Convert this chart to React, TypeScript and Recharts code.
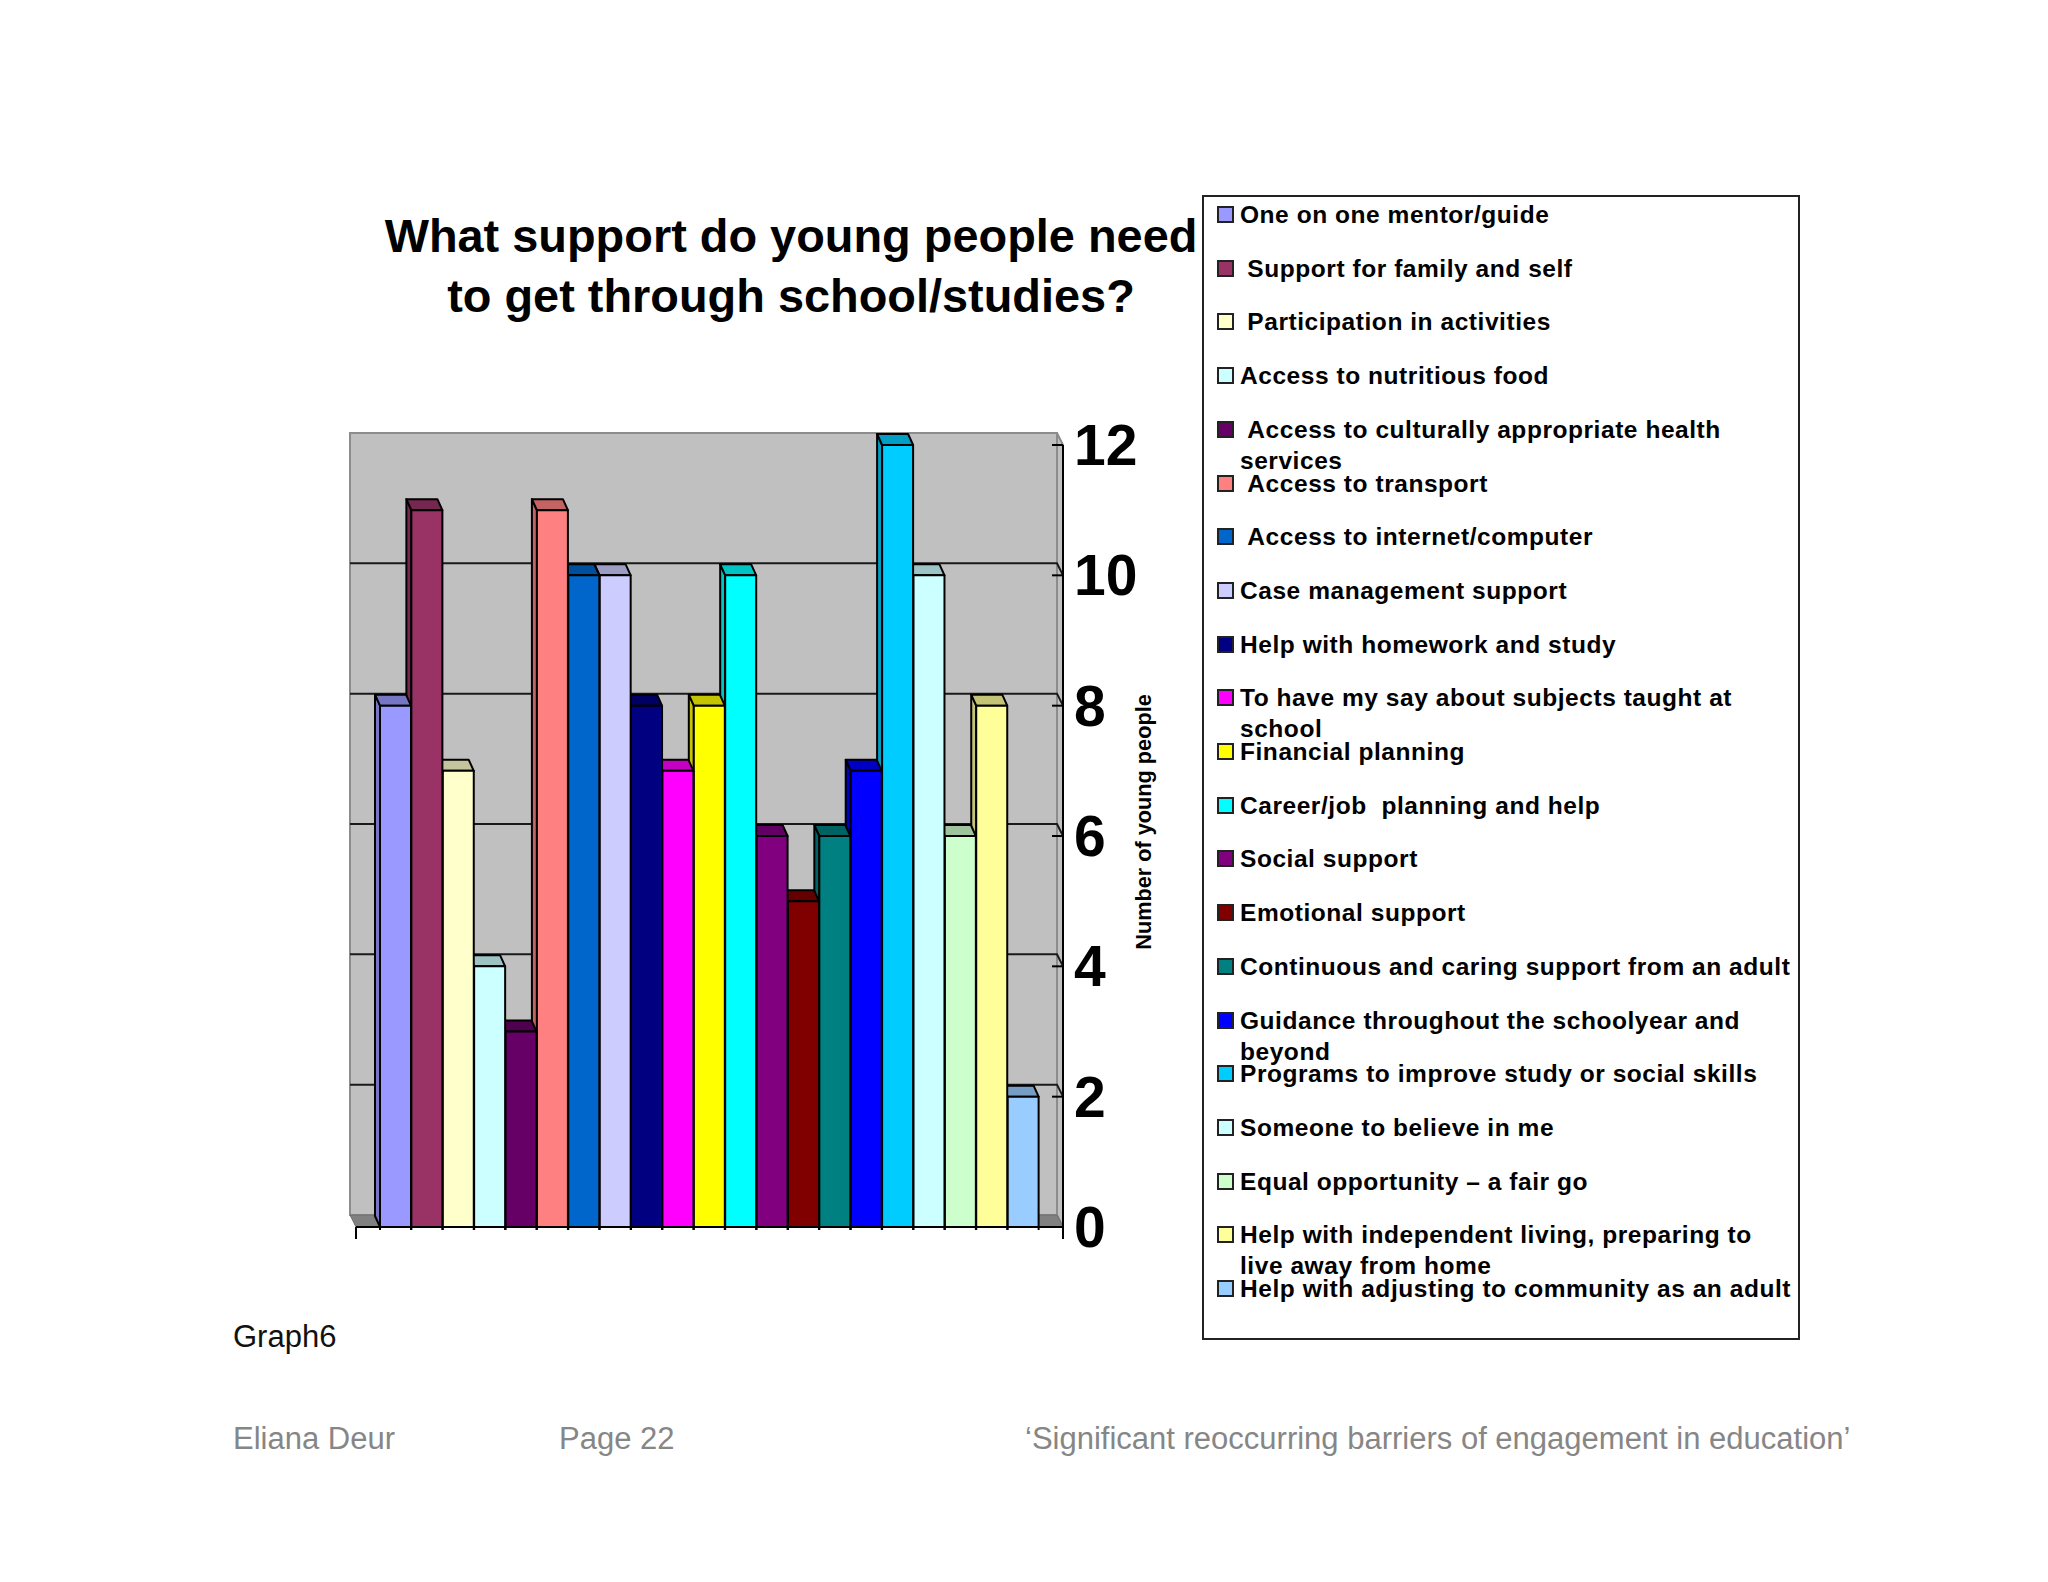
import React from 'react'
import { BarChart, Bar, XAxis, YAxis, CartesianGrid, ReferenceArea } from 'recharts'

const categories = [
  'One on one mentor/guide',
  ' Support for family and self',
  ' Participation in activities',
  'Access to nutritious food',
  ' Access to culturally appropriate health services',
  ' Access to transport',
  ' Access to internet/computer',
  'Case management support',
  'Help with homework and study',
  'To have my say about subjects taught at school',
  'Financial planning',
  'Career/job  planning and help',
  'Social support',
  'Emotional support',
  'Continuous and caring support from an adult',
  'Guidance throughout the schoolyear and beyond',
  'Programs to improve study or social skills',
  'Someone to believe in me',
  'Equal opportunity \u2013 a fair go',
  'Help with independent living, preparing to live away from home',
  'Help with adjusting to community as an adult',
]
const values = [8, 11, 7, 4, 3, 11, 10, 10, 8, 7, 8, 10, 6, 5, 6, 7, 12, 10, 6, 8, 2]
const colors = [
  '#9999FF', '#993366', '#FFFFCC', '#CCFFFF', '#660066', '#FF8080', '#0066CC',
  '#CCCCFF', '#000080', '#FF00FF', '#FFFF00', '#00FFFF', '#800080', '#800000',
  '#008080', '#0000FF', '#00CCFF', '#CCFFFF', '#CCFFCC', '#FFFF99', '#99CCFF',
]
const yTicks = [0, 2, 4, 6, 8, 10, 12]

// bars are painted right to left, the left neighbour sits on top of the side face
const data = categories.map((name, i) => ({ name, value: values[i], color: colors[i] })).reverse()

const FONT = '"Liberation Sans", Arial, sans-serif'
const DEPTH_X = 6
const DEPTH_Y = 12
const PAD_LEFT = 24
const PAD_RIGHT = 24
const LINE = 2

const shade = (hex: string, k = 0.77) => {
  const n = parseInt(hex.slice(1), 16)
  const c = (v: number) => Math.round(v * k)
  return `rgb(${c((n >> 16) & 255)},${c((n >> 8) & 255)},${c(n & 255)})`
}

const Bar3D = (props: any) => {
  const { x, y, width, height, payload } = props
  const dark = shade(payload.color)
  const dx = 5
  const dy = 11
  const bottom = y + height
  return (
    <g stroke="#000" strokeWidth={LINE} strokeLinejoin="round">
      <polygon fill={dark} points={`${x},${y} ${x - dx},${y - dy} ${x - dx},${bottom - dy} ${x},${bottom}`} />
      <polygon fill={dark} points={`${x},${y} ${x - dx},${y - dy} ${x + width - dx},${y - dy} ${x + width},${y}`} />
      <rect x={x} y={y} width={width} height={height} fill={payload.color} />
      <line x1={x} y1={bottom} x2={x} y2={bottom + 3} />
      <line x1={x + width} y1={bottom} x2={x + width} y2={bottom + 3} />
    </g>
  )
}

// the scale range is inset by the axis padding, the walls span the whole plot
const Walls = (props: any) => {
  const { y, height } = props
  const x = props.x - PAD_LEFT
  const right = props.x + props.width + PAD_RIGHT
  const bottom = y + height
  return (
    <g>
      <rect x={x - DEPTH_X} y={y - DEPTH_Y} width={right - x} height={height} fill="#C0C0C0" stroke="#8c8c8c" strokeWidth={LINE} />
      <polygon
        points={`${right - DEPTH_X},${y - DEPTH_Y} ${right},${y} ${right},${bottom} ${right - DEPTH_X},${bottom - DEPTH_Y}`}
        fill="#C0C0C0"
        stroke="#8c8c8c"
        strokeWidth={LINE}
      />
      <polygon
        points={`${x - DEPTH_X},${bottom - DEPTH_Y} ${right - DEPTH_X},${bottom - DEPTH_Y} ${right},${bottom} ${x},${bottom}`}
        fill="#808080"
        stroke="#6e6e6e"
      />
      <line x1={x} y1={bottom} x2={right} y2={bottom} stroke="#000" strokeWidth={LINE} />
      <line x1={x} y1={bottom} x2={x} y2={bottom + 12} stroke="#000" strokeWidth={LINE} />
      <line x1={right} y1={bottom} x2={right} y2={bottom + 12} stroke="#000" strokeWidth={LINE} />
    </g>
  )
}

const GridLine = (props: any) => {
  const { x1, x2, y1 } = props
  // 0 and 12 are the edges of the wall, no black line there
  if (y1 > 1220 || y1 < 450) return <g />
  return (
    <path
      d={`M${x1 - DEPTH_X},${y1 - DEPTH_Y} L${x2 - DEPTH_X},${y1 - DEPTH_Y} L${x2},${y1}`}
      fill="none"
      stroke="#1a1a1a"
      strokeWidth={LINE}
    />
  )
}

const YTick = (props: any) => {
  const { y, payload } = props
  const axisX = props.x - 8
  return (
    <g>
      <line x1={axisX - 11} y1={y} x2={axisX} y2={y} stroke="#000" strokeWidth={LINE} />
      <text x={axisX + 11} y={y + 20} fontFamily={FONT} fontWeight={700} fontSize={57} fill="#000">
        {payload.value}
      </text>
    </g>
  )
}

const LegendBox = () => (
  <div
    style={{
      position: 'absolute',
      left: 1202,
      top: 195,
      width: 594,
      height: 1141,
      border: '2px solid #222',
      fontFamily: FONT,
      fontWeight: 700,
      fontSize: 24.5,
      lineHeight: '31px',
      letterSpacing: 0.55,
      color: '#000',
    }}
  >
    {categories.map((name, i) => (
      <div key={name} style={{ position: 'absolute', left: 13, top: 2 + i * 53.7, width: 578, height: 53 }}>
        <span
          style={{
            position: 'absolute',
            left: 0,
            top: 7,
            width: 13,
            height: 13,
            background: colors[i],
            border: '2px solid #222',
          }}
        />
        <div style={{ position: 'absolute', left: 23, top: 0, whiteSpace: 'pre-wrap', width: 553 }}>{name}</div>
      </div>
    ))}
  </div>
)

const PageText = ({ left, top, size, color, children }: any) => (
  <div
    style={{
      position: 'absolute',
      left,
      top,
      fontFamily: FONT,
      fontSize: size,
      color,
      whiteSpace: 'pre',
      lineHeight: 1,
    }}
  >
    {children}
  </div>
)

export default function App() {
  return (
    <div style={{ position: 'absolute', left: 0, top: 0, width: 2048, height: 1582, background: '#fff', overflow: 'hidden' }}>
      <div
        style={{
          position: 'absolute',
          left: 291,
          top: 206,
          width: 1000,
          textAlign: 'center',
          fontFamily: FONT,
          fontWeight: 700,
          fontSize: 46.9,
          lineHeight: '60px',
          color: '#000',
        }}
      >
        What support do young people need
        <br />
        to get through school/studies?
      </div>

      <div style={{ position: 'absolute', left: 0, top: 0 }}>
        <BarChart
          width={2048}
          height={1582}
          data={data}
          barCategoryGap={0}
          margin={{ top: 445, right: 865, bottom: 355, left: 356 }}
        >
          <ReferenceArea y1={0} y2={12} shape={Walls} ifOverflow="visible" zIndex={-200} />
          <CartesianGrid vertical={false} horizontal={GridLine} />
          <XAxis
            dataKey="name"
            reversed
            tick={false}
            tickLine={false}
            height={0}
            padding={{ left: PAD_LEFT, right: PAD_RIGHT }}
            axisLine={{ stroke: '#000', strokeWidth: LINE }}
          />
          <YAxis
            orientation="right"
            width={120}
            domain={[0, 12]}
            ticks={yTicks}
            interval={0}
            tick={YTick}
            tickLine={false}
            axisLine={{ stroke: '#000', strokeWidth: LINE }}
            label={{
              value: 'Number of young people',
              angle: -90,
              position: 'center',
              dx: 20,
              dy: -14,
              fontFamily: FONT,
              fontWeight: 700,
              fontSize: 21.7,
              fill: '#000',
            }}
          />
          <Bar dataKey="value" shape={Bar3D} isAnimationActive={false} />
        </BarChart>
      </div>

      <LegendBox />

      <PageText left={233} top={1321} size={31} color="#111">Graph6</PageText>
      <PageText left={233} top={1423} size={31} color="#868686">Eliana Deur</PageText>
      <PageText left={559} top={1423} size={31} color="#868686">Page 22</PageText>
      <PageText left={1025} top={1423} size={31} color="#868686">{'\u2018Significant reoccurring barriers of engagement in education\u2019'}</PageText>
    </div>
  )
}
